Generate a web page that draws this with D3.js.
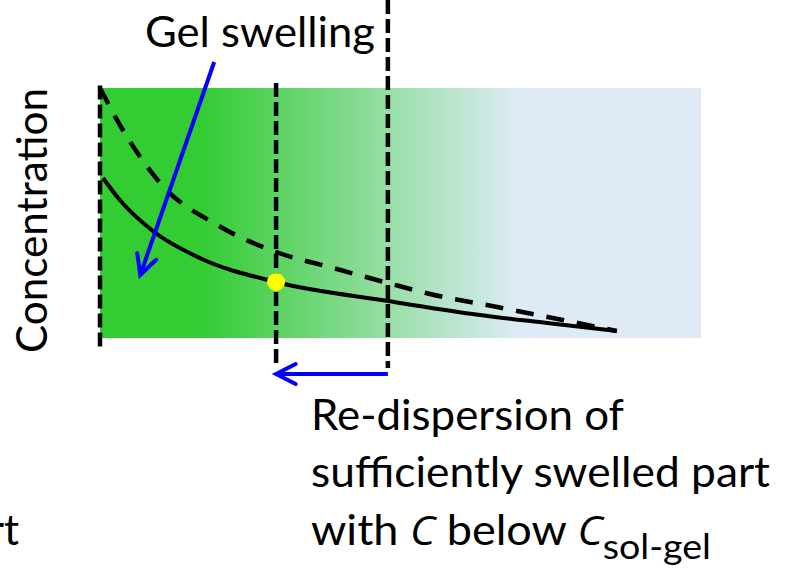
<!DOCTYPE html>
<html><head><meta charset="utf-8">
<script src="https://cdn.jsdelivr.net/npm/d3@7"></script>
<style>html,body{margin:0;padding:0;background:#fff;overflow:hidden;} svg{display:block;}</style>
</head><body>
<script>
// ---- data (chart units: position 0-100 across the box, concentration 0-100 of box height)
const positionsAfter = [0.5, 3.3, 8.8, 16.6, 29.3, 47.9, 63.2, 74.4, 86];
const concAfter      = [64, 55.2, 42.8, 32, 22.4, 14.8, 9.2, 6, 2.8];
const positionsBefore = [0, 3.8, 6.7, 10, 19.5, 29.3, 38.8, 47.9, 54.9, 66.1, 77, 86];
const concBefore      = [100, 83.2, 72.4, 62, 45.2, 34.4, 28, 22, 17.6, 12.4, 7.2, 2.8];
const boundaryX      = [0, 29.3, 47.9];
const boundaryTop    = [101, 102, 135.2];
const boundaryBottom = [-4, -10.8, -12];
const solGelPoint    = [29.3, 22.4];
const swellArrow     = [[19, 110.4], [6.7, 25.2]];
const redispArrow    = [[47.9, -14.4], [29.3, -14.4]];
const yTitle = "Concentration";
const topLabel = "Gel swelling";
const noteLines = ["Re-dispersion of", "sufficiently swelled part"];
const clipped = "rt";

const W = 789, H = 570;
const svg = d3.select("body").append("svg").attr("width", W).attr("height", H);
const x = d3.scaleLinear().domain([0, 100]).range([100, 701]);
const y = d3.scaleLinear().domain([0, 100]).range([338, 88]);
const FONT = "Lato, 'Open Sans', sans-serif";
const ITALIC_FONT = "'Open Sans', 'Noto Sans', 'DejaVu Sans', sans-serif";

// gradient background
const defs = svg.append("defs");
const grad = defs.append("linearGradient").attr("id", "bg").attr("x1", 0).attr("x2", 1).attr("y1", 0).attr("y2", 0);
[[0, "#33CC33"], [0.17, "#33CC33"], [0.70, "#DEEBF7"], [1, "#DEEBF7"]].forEach(([o, c]) =>
  grad.append("stop").attr("offset", o).attr("stop-color", c));
svg.append("rect").attr("x", x(0)).attr("y", y(100)).attr("width", x(100) - x(0)).attr("height", y(0) - y(100)).attr("fill", "url(#bg)");

// vertical dashed boundaries
svg.selectAll("line.bound").data(boundaryX).join("line").attr("class", "bound")
  .attr("x1", d => x(d)).attr("x2", d => x(d))
  .attr("y1", (d, i) => y(boundaryTop[i])).attr("y2", (d, i) => y(boundaryBottom[i]))
  .attr("stroke", "#000").attr("stroke-width", 4.5).attr("stroke-dasharray", "14,5");

// curves
const line = d3.line().x(d => x(d[0])).y(d => y(d[1])).curve(d3.curveMonotoneX);
svg.append("path").datum(positionsBefore.map((p, i) => [p, concBefore[i]]))
  .attr("d", line).attr("fill", "none").attr("stroke", "#000").attr("stroke-width", 4.5).attr("stroke-dasharray", "18,13");
svg.append("path").datum(positionsAfter.map((p, i) => [p, concAfter[i]]))
  .attr("d", line).attr("fill", "none").attr("stroke", "#000").attr("stroke-width", 4);

svg.append("circle").attr("cx", x(solGelPoint[0])).attr("cy", y(solGelPoint[1])).attr("r", 9).attr("fill", "#FFFF00");

// arrows
function arrow(a) {
  const x0 = x(a[0][0]), y0 = y(a[0][1]), x1 = x(a[1][0]), y1 = y(a[1][1]);
  const ang = Math.atan2(y0 - y1, x0 - x1), L = 22, t = 27 * Math.PI / 180;
  svg.append("line").attr("x1", x0).attr("y1", y0).attr("x2", x1).attr("y2", y1)
    .attr("stroke", "#0000FF").attr("stroke-width", 4);
  const p = [[x1 + L * Math.cos(ang + t), y1 + L * Math.sin(ang + t)], [x1, y1], [x1 + L * Math.cos(ang - t), y1 + L * Math.sin(ang - t)]];
  svg.append("path").attr("d", d3.line()(p)).attr("fill", "none").attr("stroke", "#0000FF")
    .attr("stroke-width", 4).attr("stroke-linecap", "round").attr("stroke-linejoin", "miter");
}
arrow(swellArrow);
arrow(redispArrow);

// texts
svg.append("text").attr("x", 145).attr("y", 47).attr("font-family", FONT).attr("font-size", 42)
  .attr("textLength", 230).attr("lengthAdjust", "spacingAndGlyphs").text(topLabel);
svg.append("text").attr("transform", "translate(47,220.5) rotate(-90)").attr("text-anchor", "middle")
  .attr("font-family", FONT).attr("font-size", 42).attr("textLength", 265).attr("lengthAdjust", "spacingAndGlyphs").text(yTitle);
const noteW = [313, 459];
noteLines.forEach((s, i) => svg.append("text").attr("x", 311).attr("y", 430 + i * 57)
  .attr("font-family", FONT).attr("font-size", 42).attr("textLength", noteW[i]).attr("lengthAdjust", "spacingAndGlyphs").text(s));
const t3 = svg.append("text").attr("x", 311).attr("y", 545).attr("font-family", FONT).attr("font-size", 42)
  .attr("textLength", 400).attr("lengthAdjust", "spacingAndGlyphs");
t3.append("tspan").text("with ");
t3.append("tspan").attr("font-family", ITALIC_FONT).attr("font-style", "italic").attr("font-size", 40).text("C");
t3.append("tspan").text(" below ");
t3.append("tspan").attr("font-family", ITALIC_FONT).attr("font-style", "italic").attr("font-size", 40).text("C");
t3.append("tspan").attr("font-size", 35).attr("dy", 14).text("sol-gel");
svg.append("text").attr("x", 19).attr("y", 545).attr("text-anchor", "end").attr("font-family", FONT).attr("font-size", 42).text(clipped);
</script>
</body></html>
